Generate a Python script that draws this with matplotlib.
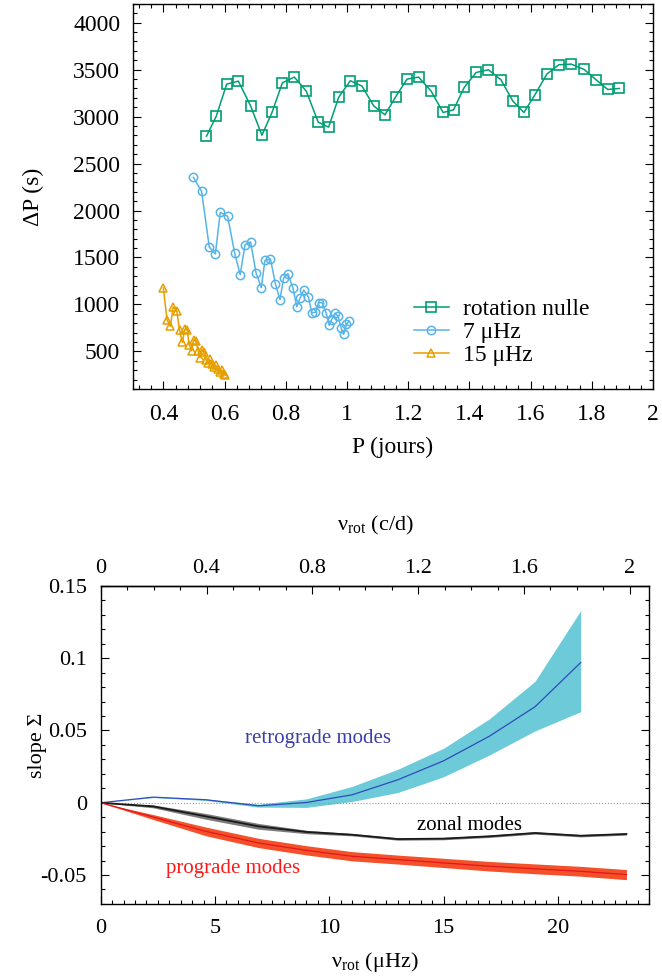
import matplotlib
matplotlib.use("Agg")
import matplotlib.pyplot as plt
from matplotlib.ticker import MultipleLocator, FormatStrFormatter, FixedLocator

plt.rcParams['font.family'] = ['Liberation Serif', 'DejaVu Serif']
plt.rcParams['mathtext.fontset'] = 'custom'
plt.rcParams['mathtext.rm'] = 'Liberation Serif'

# --- top panel: period spacing vs period ---
p_nulle = [0.541, 0.573, 0.607, 0.645, 0.685, 0.722, 0.755, 0.789, 0.828, 0.867,
           0.906, 0.940, 0.973, 1.011, 1.049, 1.087, 1.124, 1.159, 1.196, 1.234,
           1.275, 1.314, 1.348, 1.383, 1.422, 1.462, 1.503, 1.542, 1.578, 1.614,
           1.653, 1.692, 1.733, 1.775, 1.815, 1.852, 1.890]
dp_nulle = [2792, 3005, 3346, 3378, 3115, 2802, 3044, 3360, 3421, 3271,
            2941, 2888, 3207, 3382, 3325, 3115, 3019, 3211, 3399, 3421,
            3271, 3044, 3072, 3311, 3470, 3499, 3392, 3165, 3044, 3232,
            3453, 3552, 3559, 3502, 3389, 3289, 3300]

p_7 = [0.498, 0.525, 0.550, 0.570, 0.586, 0.610, 0.633, 0.651, 0.667, 0.685,
       0.703, 0.720, 0.732, 0.750, 0.766, 0.781, 0.793, 0.807, 0.823, 0.836,
       0.847, 0.859, 0.874, 0.885, 0.897, 0.908, 0.919, 0.932, 0.942, 0.950,
       0.961, 0.971, 0.981, 0.989, 0.998, 1.007]
dp_7 = [2354, 2205, 1612, 1537, 1981, 1939, 1548, 1317, 1637, 1665,
        1335, 1179, 1470, 1484, 1221, 1051, 1282, 1328, 1179, 976,
        1069, 1154, 1079, 912, 916, 1019, 1019, 909, 777, 838,
        909, 873, 749, 681, 788, 820]

p_15 = [0.400, 0.412, 0.423, 0.432, 0.444, 0.453, 0.462, 0.470, 0.478, 0.484,
        0.493, 0.499, 0.506, 0.514, 0.520, 0.526, 0.533, 0.539, 0.546, 0.551,
        0.559, 0.566, 0.571, 0.578, 0.585, 0.592, 0.598, 0.603]
dp_15 = [1175, 838, 767, 973, 930, 724, 596, 735, 731, 571,
         507, 625, 611, 504, 433, 518, 490, 411, 376, 415,
         369, 333, 351, 308, 280, 298, 262, 245]

# --- bottom panel: slope vs rotation frequency ---
nu = [0, 2.3, 4.6, 6.9, 9, 11, 13, 15, 17, 19, 21, 23]
nu_retro = nu[:11]
retro = [0, 0.0039, 0.0021, -0.0021, 0.0002, 0.0055, 0.0159, 0.029, 0.046, 0.0664, 0.097]
retro_lo = [0, 0.0036, 0.0016, -0.0030, -0.0032, 0.0009, 0.0071, 0.018, 0.033, 0.0497, 0.063]
retro_hi = [0, 0.0042, 0.0026, -0.0010, 0.0027, 0.0113, 0.0232, 0.0377, 0.058, 0.084, 0.133]

zonal = [0, -0.0025, -0.0094, -0.0163, -0.0202, -0.0221, -0.0251, -0.0248, -0.0232, -0.0209, -0.0228, -0.0216]
zonal_lo = [0, -0.0035, -0.0114, -0.0183, -0.0214, -0.0229, -0.0259, -0.0256, -0.0240, -0.0217, -0.0236, -0.0224]
zonal_hi = [0, -0.0015, -0.0074, -0.0143, -0.0190, -0.0213, -0.0243, -0.0240, -0.0224, -0.0201, -0.0220, -0.0208]

pro = [0, -0.0099, -0.0198, -0.0278, -0.0329, -0.037, -0.0393, -0.0416, -0.0439, -0.0457, -0.0474, -0.0497]
pro_lo = [0, -0.0116, -0.0228, -0.0310, -0.0361, -0.0402, -0.0424, -0.0448, -0.0472, -0.0491, -0.0508, -0.0532]
pro_hi = [0, -0.0082, -0.0168, -0.0246, -0.0297, -0.0338, -0.0362, -0.0384, -0.0406, -0.0423, -0.0440, -0.0462]

# top axis of the bottom panel, in c/d
cd_ticks = [0, 0.4, 0.8, 1.2, 1.6, 2.0]
cd_minor = [0.1 * i for i in range(21)]

green = "#009e73"
sky = "#56b4e9"
orange = "#e69f00"

fig = plt.figure(figsize=(6.62, 9.8), dpi=100)
ax1 = fig.add_axes([0.2005, 0.6031, 0.786, 0.3929])
ax2 = fig.add_axes([0.1521, 0.0776, 0.8287, 0.3245])

ax1.plot(p_nulle, dp_nulle, color=green, lw=1.1, marker="s", ms=6.5, mfc="none", mew=1.2,
         label="rotation nulle")
ax1.plot(p_7, dp_7, color=sky, lw=1.1, marker="o", ms=6, mfc="none", mew=1.1,
         label="7 μHz")
ax1.plot(p_15, dp_15, color=orange, lw=1.1, marker="^", ms=5.5, mfc="none", mew=1.1,
         label="15 μHz")

ax1.set_xlim(0.3, 2.0)
ax1.set_ylim(100, 4200)
ax1.xaxis.set_major_locator(MultipleLocator(0.2))
ax1.xaxis.set_minor_locator(MultipleLocator(0.04))
ax1.yaxis.set_major_locator(MultipleLocator(500))
ax1.yaxis.set_minor_locator(MultipleLocator(100))
ax1.xaxis.set_major_formatter(FormatStrFormatter("%g"))
ax1.set_xticks([0.4, 0.6, 0.8, 1.0, 1.2, 1.4, 1.6, 1.8, 2.0])
ax1.set_xlabel("P (jours)", fontsize=17)
ax1.set_ylabel("ΔP (s)", fontsize=17)
ax1.xaxis.set_label_coords(0.5, -0.125)
ax1.yaxis.set_label_coords(-0.17, 0.5)
ax1.legend(loc="upper left", bbox_to_anchor=(0.54, 0.234), frameon=False, fontsize=17,
           handlelength=1.5, handletextpad=0.6, labelspacing=0.05, borderpad=0,
           borderaxespad=0, numpoints=1)

ax2.axhline(0, color="#999999", lw=0.8, ls=":")
ax2.fill_between(nu_retro, retro_lo, retro_hi, color="#6ccad9", lw=0)
ax2.fill_between(nu, zonal_lo, zonal_hi, color="#7a7a7a", lw=0)
ax2.fill_between(nu, pro_lo, pro_hi, color="#f4502a", lw=0)
ax2.plot(nu_retro, retro, color="#2f4cb8", lw=0.9)
ax2.plot(nu, zonal, color="#1a1a1a", lw=1.3)
ax2.plot(nu, pro, color="#e4161c", lw=0.9)

ax2.text(9.5, 0.0446, "retrograde modes", color="#3b40a8", fontsize=15, ha="center", va="center")
ax2.text(16.15, -0.0156, "zonal modes", color="black", fontsize=15, ha="center", va="center")
ax2.text(5.8, -0.0457, "prograde modes", color="#ff1a1a", fontsize=15, ha="center", va="center")

ax2.set_xlim(0, 24)
ax2.set_ylim(-0.07, 0.15)
ax2.xaxis.set_major_locator(MultipleLocator(5))
ax2.xaxis.set_minor_locator(MultipleLocator(0.5))
ax2.yaxis.set_major_locator(MultipleLocator(0.05))
ax2.yaxis.set_minor_locator(MultipleLocator(0.01))
ax2.yaxis.set_major_formatter(FormatStrFormatter("%g"))
ax2.set_xlabel("ν$_{\\mathrm{rot}}$ (μHz)", fontsize=16)
ax2.set_ylabel("slope Σ", fontsize=16)
ax2.xaxis.set_label_coords(0.5, -0.145)
ax2.yaxis.set_label_coords(-0.097, 0.5)

secax = ax2.secondary_xaxis("top", functions=(lambda v: v / 11.574, lambda v: v * 11.574))
secax.xaxis.set_major_locator(FixedLocator(cd_ticks))
secax.xaxis.set_minor_locator(FixedLocator(cd_minor))
secax.xaxis.set_major_formatter(FormatStrFormatter("%g"))
secax.tick_params(which="major", direction="in", length=6, width=0.8, labelsize=16, pad=6)
secax.tick_params(which="minor", direction="in", length=3, width=0.8)
fig.text(0.1521 + 0.8287 / 2, 0.459, "ν$_{\\mathrm{rot}}$ (c/d)", fontsize=16,
         ha="center", va="baseline")

ax1.tick_params(which="both", direction="in", top=True, right=True, width=0.8, labelsize=17, pad=9)
ax1.tick_params(axis="x", pad=11)
ax1.tick_params(which="major", length=6)
ax1.tick_params(which="minor", length=3)
ax2.tick_params(which="both", direction="in", top=False, right=True, width=0.8, labelsize=16)
ax2.tick_params(which="major", length=6)
ax2.tick_params(which="minor", length=3)
ax2.tick_params(axis="x", pad=11)
ax2.tick_params(axis="y", pad=10)

for a in (ax1, ax2, secax):
    for s in a.spines.values():
        s.set_linewidth(1.0)

fig.savefig("out.png", dpi=100)
